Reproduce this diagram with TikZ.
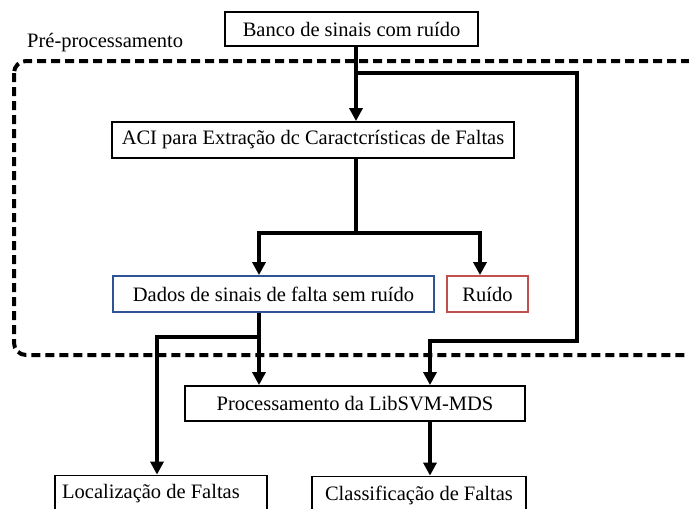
\documentclass[tikz,border=0pt]{standalone}
\usepackage{fontspec}
\setmainfont{Liberation Serif}
\usetikzlibrary{arrows.meta}
\definecolor{boxblue}{RGB}{46,84,150}
\definecolor{boxred}{RGB}{192,80,77}
\tikzset{
  stepbox/.style={draw=black, line width=1.8pt, rectangle, inner sep=0pt, fill=white,
    font=\fontsize{20.5}{24}\selectfont},
  conn/.style={line width=3.6pt, -{Triangle[width=13pt,length=13pt]}},
  plainline/.style={line width=3.6pt},
  dashbox/.style={line width=4pt, dash pattern=on 9pt off 5pt, rounded corners=12pt},
  lbl/.style={inner sep=0pt, font=\fontsize{20.5}{24}\selectfont},
}
\begin{document}
\begin{tikzpicture}[x=1pt,y=-1pt]
\useasboundingbox (0,0) rectangle (689,509);
% pre-processing frame
\draw[dashbox] (14,61) rectangle (702,355);
\node[lbl, anchor=west] (pre) at (27,43) {Pré-processamento};
% boxes
\node[stepbox, minimum width=253pt, minimum height=34pt] (banco) at (351.5,29) {Banco de sinais com ruído};
\node[stepbox, minimum width=402pt, minimum height=36pt] (aci) at (313,140) {ACI para Extração dc Caractcrísticas de Faltas};
\node[stepbox, draw=boxblue, minimum width=321pt, minimum height=36pt] (dados) at (273.5,294) {Dados de sinais de falta sem ruído};
\node[stepbox, draw=boxred, minimum width=81pt, minimum height=36pt] (ruido) at (487.5,294) {Ruído};
\node[stepbox, minimum width=340pt, minimum height=35pt] (proc) at (355,403.5) {Processamento da LibSVM-MDS};
\node[stepbox, minimum width=212pt, minimum height=37pt] (loc) at (161,494) {Localização de Faltas\hspace*{20pt}};
\node[stepbox, minimum width=214pt, minimum height=37pt] (cls) at (419,495) {Classificação de Faltas};
% helper coordinates
\coordinate (xa) at (356,0);
\coordinate (j1) at (356,73);
\coordinate (r1) at (577,73);
\coordinate (r2) at (577,341);
\coordinate (r3) at (430,341);
\coordinate (f0) at (356,233);
\coordinate (fl) at (259,233);
\coordinate (fr) at (480,233);
\coordinate (d1) at (259,337);
\coordinate (d2) at (157,337);
\coordinate (xp) at (430,0);
% connectors
\draw[conn] (banco.south -| xa) -- (aci.north -| xa);
\draw[conn] (j1) -- (r1) -- (r2) -- (r3) -- (proc.north -| r3);
\draw[plainline] (aci.south -| xa) -- (f0);
\draw[conn] (f0) -- (fl) -- (dados.north -| fl);
\draw[conn] (f0) -- (fr) -- (ruido.north -| fr);
\draw[conn] (dados.south -| fl) -- (proc.north -| fl);
\draw[conn] (d1) -- (d2) -- (loc.north -| d2);
\draw[conn] (proc.south -| xp) -- (cls.north -| xp);
\end{tikzpicture}
\end{document}
